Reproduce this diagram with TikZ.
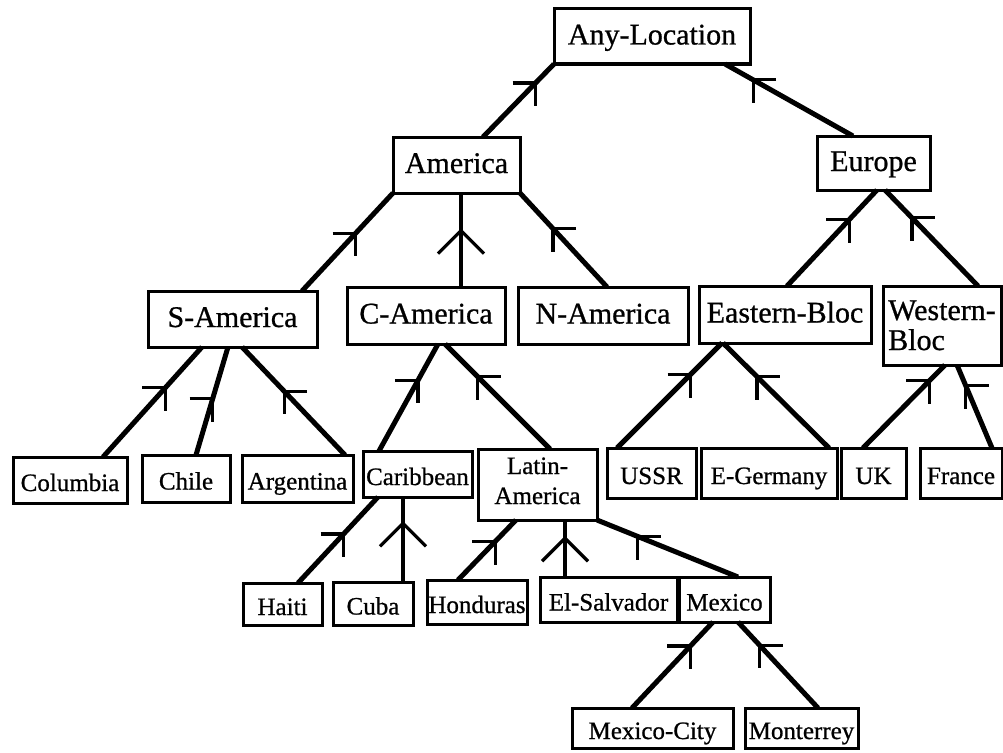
\documentclass[tikz,border=0pt]{standalone}
\usepackage{fontspec}
\setmainfont[FakeBold=0.8]{Liberation Serif}
\usetikzlibrary{calc}

\tikzset{
  box/.style={draw, line width=3pt, inner sep=0pt, outer sep=0pt, align=center},
  upper/.style={box, font=\fontsize{30}{30}\selectfont, text height=22pt, text depth=6pt},
  lower/.style={box, font=\fontsize{25}{28}\selectfont, text height=22pt, text depth=0pt},
  twoline/.style={box, text depth=0pt},
  edge/.style={line width=5pt},
  vedge/.style={line width=3.2pt},
  barb/.style={line width=3.2pt},
}

% diagonal is-a link: child end, parent end, position of the head, side of the flat barb
\newcommand\isalink[4]{%
  \draw[edge] (#1) -- (#2) coordinate[pos=#3] (tip);
  \draw[barb] ([xshift=#4*23pt]tip) -- (tip) -- ([yshift=-23pt]tip);
}
% vertical is-a link with a symmetric open head
\newcommand\isavert[3]{%
  \draw[vedge] (#1) -- (#2) coordinate[pos=#3] (tip);
  \draw[barb] ([shift={(-23pt,-23pt)}]tip) -- (tip) -- ([shift={(23pt,-23pt)}]tip);
}

\begin{document}
\begin{tikzpicture}[x=1pt, y=-1pt]
\useasboundingbox (0,0) rectangle (1003,752);

% level 0 and 1
\node[upper, minimum width=196pt, minimum height=55pt] (anyloc) at (652,36.5) {Any-Location};
\node[upper, minimum width=127pt, minimum height=56pt] (america) at (456.5,165) {America};
\node[upper, minimum width=113pt, minimum height=54pt] (europe) at (873.5,163) {Europe};

% level 2
\node[upper, minimum width=169pt, minimum height=56pt] (samerica) at (232.5,319) {S-America};
\node[upper, minimum width=158pt, minimum height=57pt] (camerica) at (426,315.5) {C-America};
\node[upper, minimum width=170pt, minimum height=57pt] (namerica) at (603,315.5) {N-America};
\node[upper, minimum width=172pt, minimum height=57pt] (ebloc) at (785,314.5) {Eastern-Bloc};
\node[twoline, font=\fontsize{30}{30}\selectfont, text height=49pt, align=left,
      minimum width=118pt, minimum height=79pt] (wbloc) at (942,325.5) {Western-\\Bloc};

% level 3
\node[lower, minimum width=114pt, minimum height=46pt] (columbia) at (70,480) {Columbia};
\node[lower, minimum width=88pt, minimum height=47pt] (chile) at (186,478.5) {Chile};
\node[lower, minimum width=111pt, minimum height=47pt] (argentina) at (297.5,478.5) {Argentina};
\node[lower, minimum width=109pt, minimum height=46pt] (caribbean) at (417.5,474) {Caribbean};
\node[twoline, font=\fontsize{25}{30}\selectfont, text height=39pt,
      minimum width=119pt, minimum height=71pt] (latinam) at (537.5,484.5) {Latin-\\America};
\node[lower, minimum width=89pt, minimum height=50pt] (ussr) at (651.5,473) {USSR};
\node[lower, minimum width=136pt, minimum height=50pt] (egermany) at (769,473) {E-Germany};
\node[lower, minimum width=65pt, minimum height=50pt] (uk) at (873.5,473) {UK};
\node[lower, minimum width=82pt, minimum height=50pt] (france) at (961,473) {France};

% level 4
\node[lower, minimum width=79pt, minimum height=42pt] (haiti) at (282.5,604) {Haiti};
\node[lower, minimum width=80pt, minimum height=43pt] (cuba) at (373,603.5) {Cuba};
\node[lower, minimum width=100pt, minimum height=44pt] (honduras) at (477,602) {Honduras};
\node[lower, minimum width=137pt, minimum height=45pt] (elsalv) at (608.5,599.5) {El-Salvador};
\node[lower, minimum width=91pt, minimum height=45pt] (mexico) at (724.5,599.5) {Mexico};

% level 5
\node[lower, minimum width=161pt, minimum height=40pt] (mexcity) at (652.5,728) {Mexico-City};
\node[lower, minimum width=113pt, minimum height=40pt] (monterrey) at (801.5,728) {Monterrey};

% links, each drawn from the child up to its parent
\isalink{[xshift=26.5pt]america.north}{anyloc.south west}{0.74}{-1}
\isalink{[xshift=-20.5pt]europe.north}{[xshift=73pt]anyloc.south}{0.78}{1}

\isalink{[xshift=69.5pt]samerica.north}{america.south west}{0.59}{-1}
\isavert{[xshift=35pt]camerica.north}{[xshift=4.5pt]america.south}{0.6}
\isalink{[xshift=4pt]namerica.north}{america.south east}{0.62}{1}
\isalink{[xshift=2pt]ebloc.north}{[xshift=3.5pt]europe.south}{0.69}{-1}
\isalink{[xshift=36pt]wbloc.north}{[xshift=11.5pt]europe.south}{0.71}{1}

\isalink{[xshift=33pt]columbia.north}{[xshift=-30.5pt]samerica.south}{0.63}{-1}
\isalink{[xshift=10pt]chile.north}{[xshift=-4.5pt]samerica.south}{0.52}{-1}
\isalink{[xshift=47.5pt]argentina.north}{[xshift=9.5pt]samerica.south}{0.59}{1}
\isalink{[xshift=-38.5pt]caribbean.north}{[xshift=12pt]camerica.south}{0.66}{-1}
\isalink{[xshift=12.5pt]latinam.north}{[xshift=19pt]camerica.south}{0.69}{1}
\isalink{[xshift=-34.5pt]ussr.north}{[xshift=-63pt]ebloc.south}{0.70}{-1}
\isalink{[xshift=60pt]egermany.north}{[xshift=-62pt]ebloc.south}{0.68}{1}
\isalink{[xshift=-10.5pt]uk.north}{[xshift=3pt]wbloc.south}{0.81}{-1}
\isalink{[xshift=31pt]france.north}{[xshift=15pt]wbloc.south}{0.75}{1}

\isalink{[xshift=15.5pt]haiti.north}{[xshift=-39.5pt]caribbean.south}{0.57}{-1}
\isavert{[xshift=30pt]cuba.north}{[xshift=-14.5pt]caribbean.south}{0.69}
\isalink{[xshift=-19pt]honduras.north}{[xshift=-21.5pt]latinam.south}{0.64}{-1}
\isavert{[xshift=-43.5pt]elsalv.north}{[xshift=27.5pt]latinam.south}{0.68}
\isalink{[xshift=13.5pt]mexico.north}{latinam.south east}{0.71}{1}

\isalink{[xshift=-20.5pt]mexcity.north}{[xshift=-11.5pt]mexico.south}{0.72}{-1}
\isalink{[xshift=16.5pt]monterrey.north}{[xshift=13.5pt]mexico.south}{0.73}{1}
\end{tikzpicture}
\end{document}
